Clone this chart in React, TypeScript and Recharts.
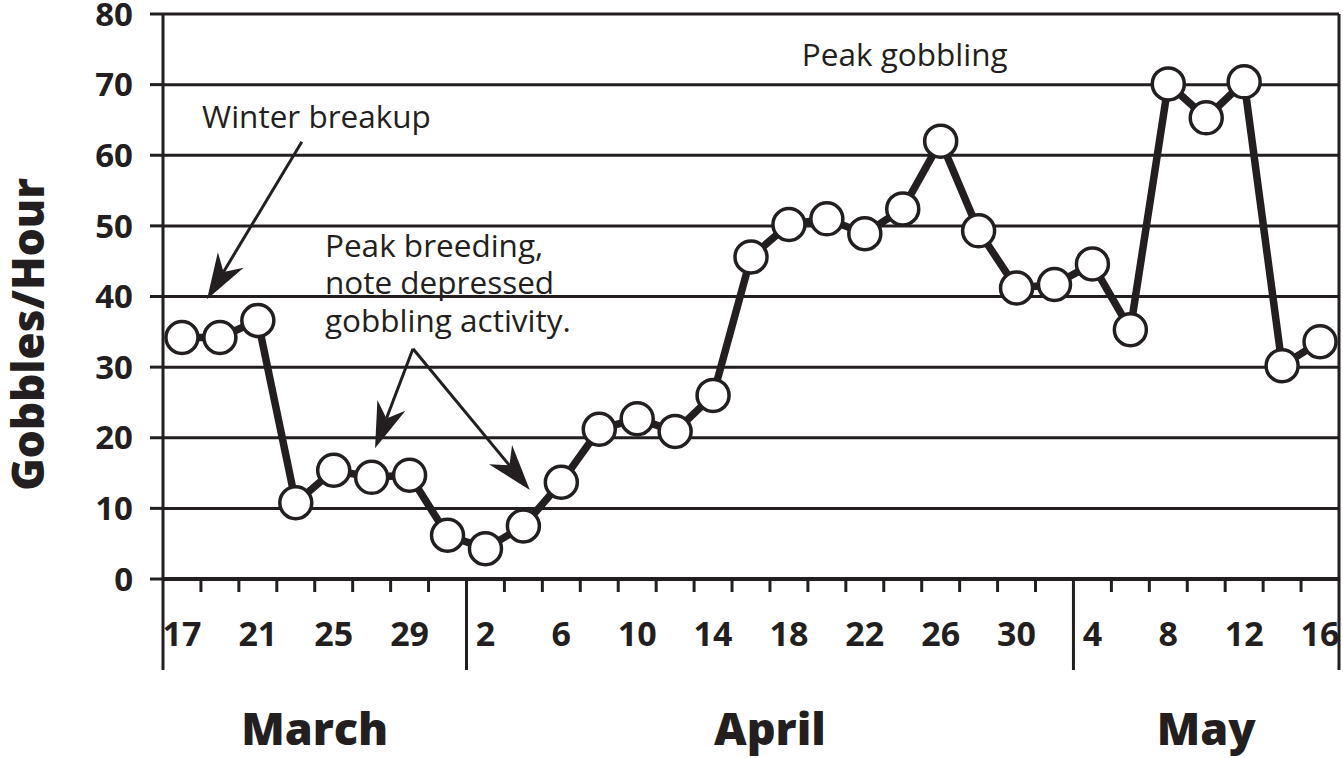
import React from 'react';
import { LineChart, Line, XAxis, YAxis, CartesianGrid, ReferenceLine, ReferenceDot } from 'recharts';

const INK = '#231f20';
const FONT = '"Open Sans", "Noto Sans", "DejaVu Sans", sans-serif';

// Day of month for every observation (every second day, Mar 17 - May 16)
const dayLabels = ['17', '19', '21', '23', '25', '27', '29', '31', '2', '4', '6', '8', '10', '12', '14', '16', '18', '20', '22', '24', '26', '28', '30', '2', '4', '6', '8', '10', '12', '14', '16'];

// Gobbles per hour
const gobbles = [34.2, 34.2, 36.6, 10.8, 15.4, 14.4, 14.7, 6.2, 4.3, 7.5, 13.7, 21.2, 22.7, 20.9, 26.0, 45.6, 50.2, 51.0, 48.9, 52.4, 62.0, 49.3, 41.2, 41.7, 44.6, 35.3, 70.1, 65.3, 70.4, 30.2, 33.6];

// Month groups (first / last observation index of each month block in the figure)
const monthNames = ['March', 'April', 'May'];
const monthFirst = [0, 8, 24];
const monthLast = [7, 23, 30];

const yTicks = [0, 10, 20, 30, 40, 50, 60, 70, 80];

// Annotations (in chart units: observation index, gobbles/hour)
const noteTexts = [['Winter breakup'], ['Peak breeding,', 'note depressed', 'gobbling activity.'], ['Peak gobbling']];
const noteX = [0.53, 3.77, 16.34];
const noteY = [63.9, 45.6, 72.6];

const arrowFromX = [3.16, 6.09, 6.09];
const arrowFromY = [61.9, 32.6, 32.6];
const arrowToX = [0.66, 5.09, 9.17];
const arrowToY = [39.6, 18.5, 12.6];

const data = gobbles.map((v, i) => ({ i, v, day: dayLabels[i] }));
const labelTicks = dayLabels.map((_, i) => i).filter((i) => i % 2 === 0);
const boundTicks = [-0.5, ...dayLabels.map((_, i) => i + 0.5)];
const longBounds = [...monthFirst.map((f) => f - 0.5), monthLast[monthLast.length - 1] + 0.5];
const xTicks = [...labelTicks, ...boundTicks];

function XTick(props: any) {
  const { x, y, payload } = props;
  const v = Number(payload.value);
  if (Number.isInteger(v)) {
    return (
      <text x={x} y={y + 67} textAnchor="middle" fontFamily={FONT} fontWeight={700} fontSize={34} fill={INK}>
        {dayLabels[v]}
      </text>
    );
  }
  const long = longBounds.includes(v);
  return <line x1={x} x2={x} y1={y} y2={y + (long ? 91 : 13)} stroke={INK} strokeWidth={3} />;
}

function YTitle(props: any) {
  const vb = props.viewBox || { x: 0, y: 0, width: 0, height: 0 };
  const cx = vb.x + 44;
  const cy = vb.y + vb.height / 2 + 38;
  return (
    <text
      transform={`translate(${cx}, ${cy}) rotate(-90)`}
      textAnchor="middle"
      fontFamily={FONT}
      fontWeight={800}
      fontSize={44}
      fill={INK}
    >
      Gobbles/Hour
    </text>
  );
}

function ArrowShape(props: any) {
  const { x1, y1, x2, y2 } = props;
  const dx = x2 - x1;
  const dy = y2 - y1;
  const len = Math.hypot(dx, dy) || 1;
  const ux = dx / len;
  const uy = dy / len;
  const px = -uy;
  const py = ux;
  const L = 46;
  const W = 15;
  const N = 32;
  const pts = [
    [x2, y2],
    [x2 - ux * L + px * W, y2 - uy * L + py * W],
    [x2 - ux * N, y2 - uy * N],
    [x2 - ux * L - px * W, y2 - uy * L - py * W],
  ]
    .map((p) => p.join(','))
    .join(' ');
  return (
    <g>
      <line x1={x1} y1={y1} x2={x2 - ux * N} y2={y2 - uy * N} stroke={INK} strokeWidth={3} />
      <polygon points={pts} fill={INK} />
    </g>
  );
}

function noteShape(lines: string[]) {
  return (p: any) => (
    <g>
      {lines.map((t, k) => (
        <text key={k} x={p.cx} y={p.cy + k * 37.5} fontFamily={FONT} fontSize={31.5} fill={INK}>
          {t}
        </text>
      ))}
    </g>
  );
}

function monthShape(name: string) {
  return (p: any) => (
    <text x={p.cx} y={p.cy + 166} textAnchor="middle" fontFamily={FONT} fontWeight={800} fontSize={45} fill={INK}>
      {name}
    </text>
  );
}

export default function App() {
  return (
    <div style={{ position: 'absolute', left: 0, top: 0, width: 1343, height: 758, background: '#fff' }}>
      <LineChart width={1343} height={758} data={data} margin={{ top: 14, right: 4, bottom: 0, left: 0 }}>
        <CartesianGrid vertical={false} stroke={INK} strokeWidth={3} />
        <XAxis
          dataKey="i"
          type="number"
          domain={[-0.5, 30.5]}
          allowDataOverflow
          ticks={xTicks}
          interval={0}
          height={179}
          tickSize={0}
          tickMargin={0}
          tickLine={false}
          axisLine={{ stroke: INK, strokeWidth: 4 }}
          tick={<XTick />}
        />
        <YAxis
          domain={[0, 80]}
          ticks={yTicks}
          interval={0}
          width={163}
          tickSize={13}
          tickMargin={17}
          axisLine={{ stroke: INK, strokeWidth: 3 }}
          tickLine={{ stroke: INK, strokeWidth: 3 }}
          tick={{ fill: INK, fontSize: 33, fontWeight: 700, fontFamily: FONT }}
          label={<YTitle />}
        />
        <ReferenceLine x={30.5} stroke={INK} strokeWidth={3} />
        {arrowFromX.map((_, k) => (
          <ReferenceLine
            key={`arrow-${k}`}
            segment={[
              { x: arrowFromX[k], y: arrowFromY[k] },
              { x: arrowToX[k], y: arrowToY[k] },
            ]}
            shape={ArrowShape}
          />
        ))}
        {noteTexts.map((lines, k) => (
          <ReferenceDot key={`note-${k}`} x={noteX[k]} y={noteY[k]} r={0} shape={noteShape(lines)} />
        ))}
        {monthNames.map((name, k) => (
          <ReferenceDot
            key={`month-${k}`}
            x={(monthFirst[k] + monthLast[k]) / 2}
            y={0}
            r={0}
            shape={monthShape(name)}
          />
        ))}
        <Line
          dataKey="v"
          type="linear"
          stroke={INK}
          strokeWidth={7.5}
          isAnimationActive={false}
          dot={{ r: 16, fill: '#fff', stroke: INK, strokeWidth: 3.5 }}
          activeDot={false}
        />
      </LineChart>
    </div>
  );
}
